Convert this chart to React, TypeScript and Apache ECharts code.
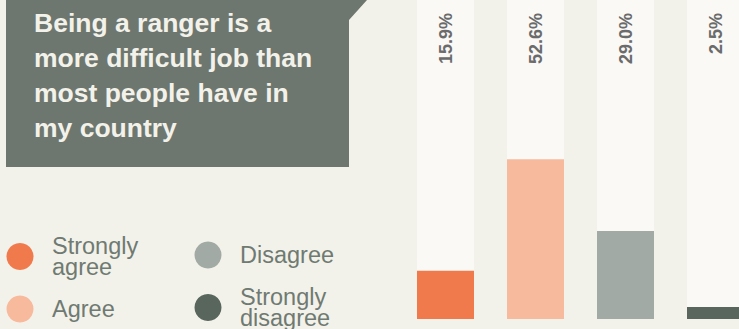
import React, { useEffect, useRef } from "react";
import * as echarts from "echarts";

const categories = ["Strongly agree", "Agree", "Disagree", "Strongly disagree"];
const values = [15.9, 52.6, 29.0, 2.5];
const colors = ["#f07a4b", "#f8ba9c", "#a2aaa5", "#58665d"];
const titleText = "Being a ranger is a\nmore difficult job than\nmost people have in\nmy country";
const yMax = 105;

export default function App() {
  const ref = useRef<HTMLDivElement>(null);
  useEffect(() => {
    document.body.style.margin = "0";
    const chart = echarts.init(ref.current!, null, { renderer: "svg" });
    const font = "'Liberation Sans', Arial, sans-serif";
    const dataSeries = categories.map((name, i) => ({
      name,
      type: "bar",
      stack: "total",
      barWidth: 57,
      barMinHeight: i === 3 ? 12 : 0,
      itemStyle: { color: colors[i] },
      data: values.map((v, j) => (j === i ? v : "-")),
      z: 3,
    }));
    const legendCommon = {
      orient: "vertical",
      padding: 0,
      icon: "circle",
      itemWidth: 54,
      itemHeight: 27,
      itemGap: 16.5,
      height: 120,
      selectedMode: false,
      formatter: (n: string) => n.replace("Strongly ", "Strongly\n"),
      textStyle: { fontSize: 23.5, color: "#6f7a72", lineHeight: 21, fontFamily: font },
    };
    chart.setOption({
      animation: false,
      backgroundColor: "#f3f2ea",
      grid: { left: 400.5, width: 360, top: 0, bottom: 10 },
      xAxis: { type: "category", data: categories, show: false },
      yAxis: { type: "value", min: 0, max: yMax, show: false },
      legend: [
        { ...legendCommon, data: [categories[0], categories[1]], left: 6.5, top: 234 },
        { ...legendCommon, data: [categories[2], categories[3]], left: 194.5, top: 241.5 },
      ],
      graphic: [
        {
          type: "polygon",
          shape: { points: [[6, 0], [367, 0], [349, 20], [349, 167], [6, 167]] },
          style: { fill: "#6e776f" },
        },
        {
          type: "text",
          x: 34,
          y: 5.5,
          style: {
            text: titleText,
            fill: "#f3f2ea",
            font: `bold 26.5px ${font}`,
            lineHeight: 35,
          },
        },
      ],
      series: [
        {
          name: "bg",
          type: "bar",
          barWidth: 57,
          barGap: "-100%",
          silent: true,
          itemStyle: { color: "#faf9f6" },
          data: values.map(() => yMax),
          z: 1,
          label: {
            show: true,
            position: "insideTop",
            distance: 13,
            rotate: 90,
            align: "right",
            verticalAlign: "middle",
            fontSize: 18,
            fontWeight: "bold",
            fontFamily: font,
            color: "#6b6b6b",
            formatter: (p: any) => values[p.dataIndex].toFixed(1) + "%",
          },
        },
        ...dataSeries,
      ],
    });
    return () => chart.dispose();
  }, []);
  return (
    <div style={{ width: 739, height: 329, overflow: "hidden", background: "#f3f2ea" }}>
      <div ref={ref} style={{ width: 761, height: 329 }} />
    </div>
  );
}
